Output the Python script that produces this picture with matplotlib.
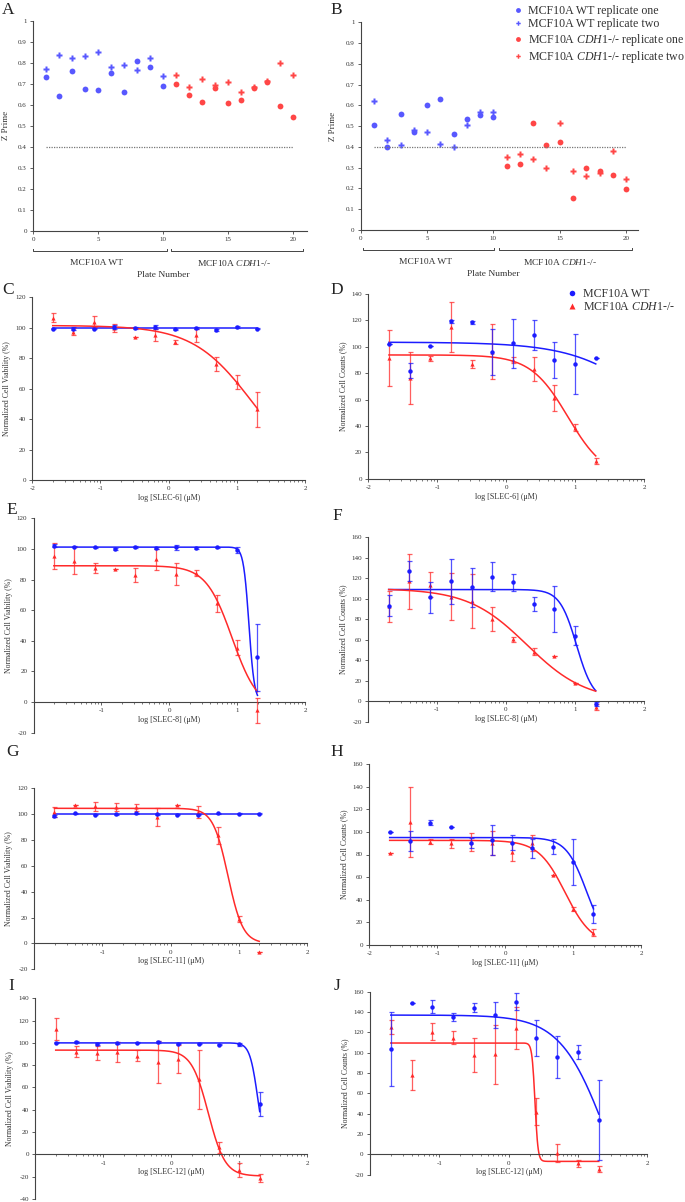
import numpy as np
import matplotlib
matplotlib.use('Agg')
import matplotlib.pyplot as plt
from matplotlib.lines import Line2D

plt.rcParams['font.family'] = ['Liberation Serif', 'DejaVu Serif']
plt.rcParams['mathtext.fontset'] = 'custom'
plt.rcParams['mathtext.it'] = 'Liberation Serif:italic'
plt.rcParams['mathtext.rm'] = 'Liberation Serif'
plt.rcParams['axes.unicode_minus'] = False

W, H = 685, 1202
BLUE = '#1c1cff'
RED = '#ff2a2a'
BLUE_LIGHT = '#5858ff'
RED_LIGHT = '#ff4646'
AX_COL = '#444444'
KO_LABEL = r'MCF10A $\mathit{CDH1}$-/-'

# ---- Z prime data (panels A, B) ----
plates = np.arange(1, 21)
zp_threshold = 0.4
a_rep1 = [0.73, 0.64, 0.76, 0.675, 0.67, 0.75, 0.66, 0.81, 0.78, 0.69,
          0.70, 0.645, 0.615, 0.68, 0.61, 0.62, 0.68, 0.71, 0.595, 0.54]
a_rep2 = [0.77, 0.835, 0.82, 0.83, 0.85, 0.78, 0.79, 0.765, 0.82, 0.735,
          0.74, 0.685, 0.72, 0.695, 0.71, 0.66, 0.685, 0.715, 0.80, 0.74]
b_rep1 = [0.505, 0.40, 0.56, 0.47, 0.60, 0.63, 0.46, 0.535, 0.555, 0.545,
          0.31, 0.32, 0.515, 0.41, 0.425, 0.155, 0.30, 0.285, 0.265, 0.195]
b_rep2 = [0.62, 0.435, 0.41, 0.48, 0.47, 0.415, 0.40, 0.505, 0.57, 0.57,
          0.35, 0.365, 0.34, 0.30, 0.515, 0.285, 0.26, 0.275, 0.38, 0.245]

# ---- dose response data (panels C-J), x = log concentration (uM) ----
log_dose = [-1.7, -1.4, -1.1, -0.8, -0.5, -0.2, 0.1, 0.4, 0.7, 1.0, 1.3]

c_wt = [99.5, 99.5, 99.5, 100.5, 100, 100.5, 99, 99.8, 98.5, 100.5, 99.5]
c_wt_err = [0.5, 1, 0.5, 1, 0.5, 1.5, 0.5, 0.8, 0.5, 0.5, 0.5]
c_ko = [106.5, 97.5, 104, 100, 94, 95, 90.5, 95, 76, 64.5, 46.5]
c_ko_err = [3, 2.5, 3.5, 2.5, 0, 4, 1.5, 4.5, 4.5, 4.5, 11.5]

d_wt = [101.8, 82, 100.6, 119.3, 118.5, 96.3, 102.6, 108.9, 90, 87, 91.7]
d_wt_err = [0, 6, 0, 1, 1, 17.5, 18.5, 11.5, 13.5, 23, 0]
d_ko = [91.5, 76.5, 91.2, 115, 87, 96.3, 90, 83, 61, 38.7, 13.4]
d_ko_err = [21, 19.5, 2, 19, 3, 21, 2.5, 9, 10, 2.5, 2.5]

e_wt = [102, 101.5, 101, 99.8, 101.3, 100.7, 101.1, 100.5, 101, 99.3, 29.2]
e_wt_err = [1, 0.5, 0.5, 0.5, 0.5, 0.5, 1.5, 0.5, 0.5, 2, 22]
e_ko = [95.6, 92.3, 87.8, 86.7, 83, 93.2, 83.4, 84.1, 64.5, 35.5, -5.5]
e_ko_err = [8.5, 9, 3.3, 0, 4.6, 7, 7.3, 1.8, 5.5, 4.9, 8.3]

f_wt = [93.2, 126.9, 101.3, 117, 111.3, 121.5, 115.9, 94.6, 90, 64, -3]
f_wt_err = [10.3, 9.5, 15.5, 21.7, 19.2, 14, 8.6, 7, 22.8, 9, 2]
f_ko = [92.6, 117, 113.8, 102, 97.6, 80.2, 60.5, 48.4, 44.1, 18, -6]
f_ko_err = [15, 27, 12, 22.8, 26.6, 12.1, 2.5, 3.6, 0, 0, 3]

g_wt = [98.5, 100.5, 99.5, 99.8, 100.5, 99.8, 99.7, 99.7, 100.5, 100.4, 100.3]
g_wt_err = [1, 0.5, 0.5, 0.5, 0.5, 0.5, 0.5, 0.5, 0.5, 0.5, 0.5]
g_ko = [101.5, 106.7, 106.2, 105.6, 105.2, 97.9, 107, 101.5, 83.5, 19, -6.5]
g_ko_err = [4, 0, 3.5, 3, 3, 7, 0, 4.5, 6.7, 2.5, 0]

h_wt = [100.2, 92, 108.2, 104.6, 90, 92.8, 90.5, 85.5, 86.9, 73.6, 27.1]
h_wt_err = [0, 8.5, 2.5, 0, 4.5, 13.5, 6.3, 8.3, 6.5, 20.3, 8]
h_ko = [81, 109, 91.4, 90, 91, 90, 82.5, 90.2, 61.9, 31.8, 10.9]
h_ko_err = [0, 31, 2, 4, 8, 10.5, 8, 7, 0, 2, 3]

i_wt = [100.2, 100.8, 99, 99.8, 100.2, 101, 99.3, 99.3, 98.5, 98.8, 44.9]
i_wt_err = [0.5, 0.5, 0.5, 1, 0.5, 1, 0.5, 0.5, 0.5, 1.5, 10.7]
i_ko = [112.5, 92.1, 90.7, 92, 88.5, 83.1, 85.3, 67.3, 6.3, -14.1, -21.6]
i_ko_err = [9.5, 5, 6.3, 9, 5.2, 19, 12.4, 26.7, 4.8, 6, 3.6]

j_wt = [103.6, 148.6, 145.3, 135.4, 144.3, 137.1, 150.2, 114.2, 95.5, 101, 33.8]
j_wt_err = [36.6, 0, 6.6, 4, 4.4, 13, 8.5, 17.7, 20.5, 6.9, 39.7]
j_ko = [125, 78, 120.7, 114.8, 97.7, 98.4, 124.6, 42, 1, -8.9, -14.5]
j_ko_err = [7, 15, 8.7, 6.6, 17, 29, 20.8, 13, 8.7, 3.3, 3]

# fitted 4PL curves: (top, bottom, logIC50, hill)
c_wt_fit = (99.7, 99.7, 0.0, 1.0)
c_ko_fit = (101.5, 0, 1.235, 0.99)
d_wt_fit = (103.5, 0, 2.25, 0.76)
d_ko_fit = (93.8, 0, 0.896, 1.6)
e_wt_fit = (101.2, 0, 1.174, 10.7)
e_ko_fit = (89, -5, 0.925, 2.26)
f_wt_fit = (109, 0, 1.023, 3.56)
f_ko_fit = (110, 0, 0.303, 1.017)
g_wt_fit = (100.2, 100.2, 0.0, 1.0)
g_ko_fit = (104.5, 0, 0.842, 3.96)
h_wt_fit = (95, 0, 1.198, 2.89)
h_ko_fit = (92.5, 0, 0.884, 2.2)
i_wt_fit = (100, 0, 1.272, 7.4)
i_ko_fit = (93.5, -19.5, 0.544, 3.52)
j_wt_fit = (137, -100, 1.42, 1.3)
j_ko_fit = (109.5, -7, 0.38, 20)


def four_pl(x, top, bottom, logic50, hill):
    return bottom + (top - bottom) / (1 + 10 ** ((x - logic50) * hill))


def add_ax(fig, left, right, top, bottom):
    return fig.add_axes([left / W, 1 - bottom / H, (right - left) / W, (bottom - top) / H])


def style_axes(ax):
    for s in ['top', 'right']:
        ax.spines[s].set_visible(False)
    for s in ['left', 'bottom']:
        ax.spines[s].set_color(AX_COL)
        ax.spines[s].set_linewidth(0.8)
    ax.tick_params(which='major', length=2.5, width=0.6, color=AX_COL,
                   labelsize=5, labelcolor='#333333', pad=2)
    ax.tick_params(which='minor', length=1.5, width=0.5, color=AX_COL)


def zprime_panel(fig, box, xmax, rep1, rep2, brackets):
    ax = add_ax(fig, *box)
    style_axes(ax)
    p = np.array(plates)
    r1 = np.array(rep1)
    r2 = np.array(rep2)
    wt = p <= 10
    ax.plot(p[wt], r1[wt], 'o', color=BLUE_LIGHT, ms=4.2, mec='none', clip_on=False)
    ax.plot(p[wt], r2[wt], 'P', color=BLUE_LIGHT, ms=3.8, mec='none', clip_on=False)
    ax.plot(p[~wt], r1[~wt], 'o', color=RED_LIGHT, ms=4.2, mec='none', clip_on=False)
    ax.plot(p[~wt], r2[~wt], 'P', color=RED_LIGHT, ms=3.8, mec='none', clip_on=False)
    ax.plot([1, 20], [zp_threshold, zp_threshold], ls=(0, (1, 1)), color='#777777', lw=0.9)
    ax.set_xlim(0, xmax)
    ax.set_ylim(0, 1)
    ax.set_xticks([0, 5, 10, 15, 20])
    yt = np.round(np.arange(0, 1.01, 0.1), 1)
    ax.set_yticks(yt)
    ax.set_yticklabels(['0' if v == 0 else ('1' if v == 1 else f'{v:.1f}') for v in yt])
    ax.set_ylabel('Z Prime', fontsize=6.5, color='#333333', labelpad=6)
    tr = ax.get_xaxis_transform()
    for (x0, x1, lab, xc) in brackets:
        ax.plot([x0, x0, x1, x1], [-0.085, -0.097, -0.097, -0.085], transform=tr,
                clip_on=False, color=AX_COL, lw=0.7)
        ax.text(xc, -0.155, lab, transform=tr, ha='center', va='center',
                fontsize=6.8, color='#333333')
    ax.text(10, -0.21, 'Plate Number', transform=tr, ha='center', va='center',
            fontsize=6.8, color='#333333')
    return ax


def dose_panel(fig, box, ylim, wt, wt_err, ko, ko_err, wt_fit, ko_fit, drug, ylabel):
    ax = add_ax(fig, *box)
    style_axes(ax)
    xs = np.linspace(-1.7, 1.3, 400)
    ax.plot(xs, four_pl(xs, *wt_fit), color=BLUE, lw=1.1, zorder=2)
    ax.plot(xs, four_pl(xs, *ko_fit), color=RED, lw=1.1, zorder=2)
    ax.errorbar(log_dose, ko, yerr=ko_err, fmt='^', ms=3.0, color=RED, mec='none',
                ecolor=(1, 0.16, 0.16, 0.75), elinewidth=0.9, capsize=1.8, capthick=0.9,
                zorder=3, clip_on=False)
    ax.errorbar(log_dose, wt, yerr=wt_err, fmt='o', ms=3.2, color=BLUE, mec='none',
                ecolor=(0.1, 0.1, 1, 0.75), elinewidth=0.9, capsize=1.8, capthick=0.9,
                zorder=4, clip_on=False)
    ax.set_xlim(-2, 2)
    ax.set_ylim(*ylim)
    ax.spines['bottom'].set_position(('data', 0))
    if ylim[0] < 0:
        ax.set_xticks([-1, 0, 1, 2])
    else:
        ax.set_xticks([-2, -1, 0, 1, 2])
    minors = [n + np.log10(k) for n in range(-2, 2) for k in range(2, 10)]
    ax.set_xticks(minors, minor=True)
    ax.set_yticks(np.arange(ylim[0], ylim[1] + 1, 20))
    ax.set_xlabel(f'log [{drug}] (\u03bcM)', fontsize=5.8, color='#333333', labelpad=2)
    ax.set_ylabel(ylabel, fontsize=5.6, color='#333333', labelpad=3)
    return ax


fig = plt.figure(figsize=(W / 100, H / 100), dpi=100)

zprime_panel(fig, (33, 307, 20.7, 230.7), 21.08, a_rep1, a_rep2,
             [(0.0, 10.3, 'MCF10A WT', 4.9), (10.6, 20.8, KO_LABEL, 15.5)])
zprime_panel(fig, (360.7, 638.3, 22.3, 230), 20.92, b_rep1, b_rep2,
             [(0.15, 10.05, 'MCF10A WT', 4.9), (10.4, 20.45, KO_LABEL, 15.0)])

leg_b = [Line2D([], [], ls='none', marker='o', color=BLUE_LIGHT, ms=3.5, mec='none'),
         Line2D([], [], ls='none', marker='P', color=BLUE_LIGHT, ms=3.2, mec='none'),
         Line2D([], [], ls='none', marker='o', color=RED_LIGHT, ms=3.5, mec='none'),
         Line2D([], [], ls='none', marker='P', color=RED_LIGHT, ms=3.2, mec='none')]
fig.legend(leg_b, ['MCF10A WT replicate one', 'MCF10A WT replicate two',
                   KO_LABEL + ' replicate one', KO_LABEL + ' replicate two'],
           loc='upper left', bbox_to_anchor=(512 / W, 1 - 5 / H), frameon=False,
           fontsize=8.6, handletextpad=0.3, labelspacing=0.12, handlelength=1.0,
           borderpad=0, borderaxespad=0, labelcolor='#333333')

viab = 'Normalized Cell Viability (%)'
counts = 'Normalized Cell Counts (%)'
dose_panel(fig, (32.3, 305, 297.3, 480), (0, 120), c_wt, c_wt_err, c_ko, c_ko_err,
           c_wt_fit, c_ko_fit, 'SLEC-6', viab)
dose_panel(fig, (368.3, 644, 294, 478.7), (0, 140), d_wt, d_wt_err, d_ko, d_ko_err,
           d_wt_fit, d_ko_fit, 'SLEC-6', counts)
dose_panel(fig, (33.5, 305, 518.3, 732.6), (-20, 120), e_wt, e_wt_err, e_ko, e_ko_err,
           e_wt_fit, e_ko_fit, 'SLEC-8', viab)
dose_panel(fig, (368, 644, 537.3, 721.6), (-20, 160), f_wt, f_wt_err, f_ko, f_ko_err,
           f_wt_fit, f_ko_fit, 'SLEC-8', counts)
dose_panel(fig, (34, 307, 788.3, 969.2), (-20, 120), g_wt, g_wt_err, g_ko, g_ko_err,
           g_wt_fit, g_ko_fit, 'SLEC-11', viab)
dose_panel(fig, (369.3, 641, 764, 945), (0, 160), h_wt, h_wt_err, h_ko, h_ko_err,
           h_wt_fit, h_ko_fit, 'SLEC-11', counts)
dose_panel(fig, (35.3, 307.3, 998.3, 1198.9), (-40, 140), i_wt, i_wt_err, i_ko, i_ko_err,
           i_wt_fit, i_ko_fit, 'SLEC-12', viab)
dose_panel(fig, (370, 647.3, 991.7, 1174.6), (-20, 160), j_wt, j_wt_err, j_ko, j_ko_err,
           j_wt_fit, j_ko_fit, 'SLEC-12', counts)

leg_d = [Line2D([], [], ls='none', marker='o', color=BLUE, ms=4, mec='none'),
         Line2D([], [], ls='none', marker='^', color=RED, ms=4, mec='none')]
fig.legend(leg_d, ['MCF10A WT', KO_LABEL], loc='upper left',
           bbox_to_anchor=(566 / W, 1 - 288 / H), frameon=False, fontsize=8.6,
           handletextpad=0.4, labelspacing=0.12, handlelength=1.0, borderpad=0,
           borderaxespad=0, labelcolor='#333333')

# panel letters
letters = [('A', 2, 2), ('B', 330, 2), ('C', 2, 282), ('D', 330, 282),
           ('E', 6, 502), ('F', 332, 508), ('G', 6, 744), ('H', 330, 744),
           ('I', 8, 978), ('J', 334, 978)]
for lab, x, y in letters:
    fig.text(x / W, 1 - y / H, lab, fontsize=12.5, va='top', ha='left', color='#222222')

fig.savefig('out.png', dpi=100)
